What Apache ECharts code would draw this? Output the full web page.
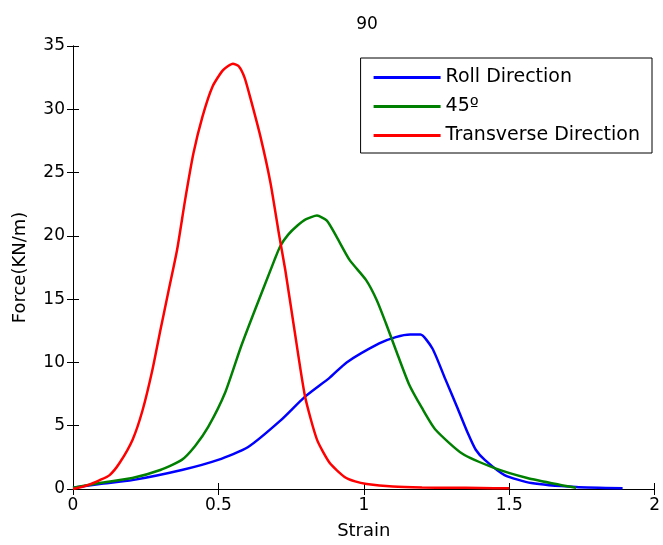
<!DOCTYPE html>
<html>
<head>
<meta charset="utf-8">
<script src="https://cdn.jsdelivr.net/npm/echarts@6/dist/echarts.min.js"></script>
<style>
  html, body { margin: 0; padding: 0; background: #fff; }
  #chart { width: 663px; height: 545px; }
</style>
</head>
<body>
<div id="chart"></div>
<script>
// strain / force, one pair of arrays per curve
const rollStrain = [0, 0.092, 0.204, 0.374, 0.499, 0.601, 0.713, 0.798, 0.883, 0.941, 1.053, 1.11, 1.16, 1.195, 1.236, 1.28, 1.324, 1.358, 1.385, 1.416, 1.484, 1.576, 1.73, 1.89]
const rollForce = [0.1, 0.4, 0.7, 1.5, 2.3, 3.3, 5.4, 7.3, 8.8, 10.0, 11.5, 12.0, 12.2, 12.2, 11.1, 8.7, 6.3, 4.4, 3.1, 2.3, 1.1, 0.47, 0.15, 0.05]

const diagStrain = [0, 0.092, 0.204, 0.3, 0.374, 0.42, 0.465, 0.523, 0.577, 0.625, 0.693, 0.713, 0.74, 0.771, 0.8, 0.839, 0.873, 0.907, 0.951, 1.008, 1.045, 1.076, 1.11, 1.155, 1.2, 1.246, 1.338, 1.45, 1.562, 1.677, 1.73]
const diagForce = [0.1, 0.47, 0.87, 1.5, 2.3, 3.4, 4.9, 7.6, 11.2, 14.1, 18.1, 19.2, 20.1, 20.8, 21.3, 21.6, 21.2, 19.9, 18.1, 16.5, 14.9, 13.1, 11.0, 8.3, 6.4, 4.7, 2.8, 1.65, 0.87, 0.32, 0.1]

const transStrain = [0, 0.05, 0.092, 0.126, 0.16, 0.205, 0.239, 0.273, 0.301, 0.329, 0.358, 0.386, 0.414, 0.445, 0.48, 0.516, 0.55, 0.57, 0.59, 0.611, 0.645, 0.679, 0.71, 0.73, 0.76, 0.798, 0.839, 0.883, 0.934, 0.97, 1.01, 1.1, 1.2, 1.3, 1.4, 1.5]
const transForce = [0, 0.3, 0.7, 1.1, 2.05, 3.9, 6.2, 9.4, 12.6, 15.7, 18.9, 22.9, 26.5, 29.4, 31.8, 33.1, 33.6, 33.4, 32.5, 30.8, 27.8, 24.2, 19.9, 17.3, 12.8, 7.3, 3.9, 2.05, 0.95, 0.6, 0.4, 0.2, 0.12, 0.1, 0.08, 0.05]

const seriesNames = ['Roll Direction', '45º', 'Transverse Direction']
const seriesColors = ['#0000ff', '#008000', '#ff0000']
const xTicks = { min: 0, max: 2, interval: 0.5 }
const yTicks = { min: 0, max: 35, interval: 5 }

function pairs(xs, ys) {
    return xs.map(function (x, i) { return [x, ys[i]] })
}

const font = 'DejaVu Sans'
const axisBase = {
    type: 'value',
    axisLine: { show: true, lineStyle: { color: '#000', width: 1 } },
    axisTick: { show: true, inside: true, length: 6, lineStyle: { color: '#000' } },
    splitLine: { show: false },
    axisLabel: { color: '#000', fontSize: 17, fontFamily: font, margin: 8 }
}

let myChart = echarts.init(document.getElementById('chart'))
let option = {
    animation: false,
    textStyle: { fontFamily: font },
    title: {
        text: '90',
        left: 362,
        top: 11,
        textAlign: 'center',
        textStyle: { fontSize: 17, fontWeight: 'normal', color: '#000', fontFamily: font }
    },
    legend: {
        data: seriesNames,
        orient: 'vertical',
        right: 11,
        top: 58,
        padding: [10, 12, 8, 13],
        icon: 'rect',
        itemWidth: 67,
        itemHeight: 3,
        itemGap: 10,
        borderColor: '#000',
        borderWidth: 1,
        backgroundColor: '#fff',
        textStyle: { fontSize: 19, color: '#000', fontFamily: font }
    },
    grid: { left: 73, right: 1, top: 46, bottom: 56 },
    xAxis: [
        Object.assign({}, axisBase, xTicks, {
            position: 'bottom',
            name: 'Strain',
            nameLocation: 'middle',
            nameGap: 33,
            nameTextStyle: { fontSize: 18, color: '#000', fontFamily: font }
        }),
        Object.assign({}, axisBase, xTicks, { position: 'top', axisLabel: { show: false } })
    ],
    yAxis: [
        Object.assign({}, axisBase, yTicks, {
            position: 'left',
            name: 'Force(KN/m)',
            nameLocation: 'middle',
            nameGap: 44,
            nameTextStyle: { fontSize: 18, color: '#000', fontFamily: font }
        }),
        Object.assign({}, axisBase, yTicks, { position: 'right', axisLabel: { show: false } })
    ],
    series: [
        [rollStrain, rollForce],
        [diagStrain, diagForce],
        [transStrain, transForce]
    ].map(function (d, i) {
        return {
            name: seriesNames[i],
            type: 'line',
            data: pairs(d[0], d[1]),
            symbol: 'none',
            smooth: 0.2,
            color: seriesColors[i],
            lineStyle: { color: seriesColors[i], width: 2.5 }
        }
    })
}
myChart.setOption(option)
</script>
</body>
</html>
